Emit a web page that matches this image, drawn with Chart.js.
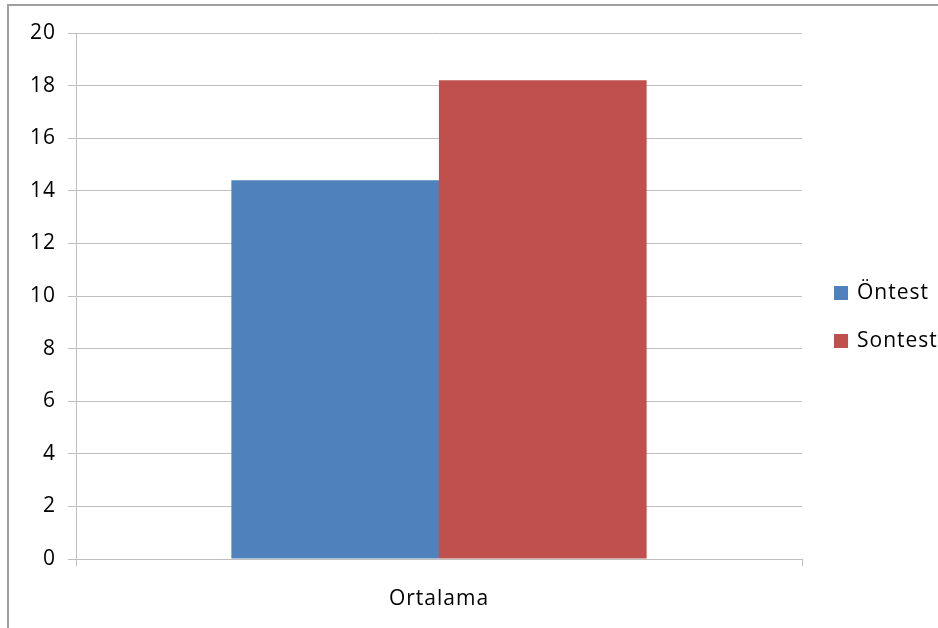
<!DOCTYPE html>
<html>
<head>
<meta charset="utf-8">
<script src="https://cdn.jsdelivr.net/npm/chart.js@4.4.1/dist/chart.umd.min.js"></script>
<style>
  html, body { margin: 0; padding: 0; background: #fff; }
  #wrap {
    position: absolute; left: 7px; top: 4px;
    width: 929px; height: 622px;
    border-left: 2px solid #a0a0a0; border-top: 2px solid #a0a0a0;
  }
</style>
</head>
<body>
<div id="wrap"><canvas id="chart" width="929" height="622"></canvas></div>
<script>
// data
var categories = ['Ortalama'];
var seriesNames = ['Öntest', 'Sontest'];
var ontestValues = [14.4];
var sontestValues = [18.2];
var seriesColors = ['#4F81BD', '#C0504D'];

var fontFamily = '"Open Sans", "Liberation Sans", sans-serif';
var gridColor = '#bfbfbf';

// legend drawn by hand so the plot area keeps its width
var sideLegend = {
    id: 'sideLegend',
    beforeDraw: function (chart) {
        chart.ctx.letterSpacing = '1px';
    },
    afterDraw: function (chart) {
        var ctx = chart.ctx;
        var sets = chart.data.datasets;
        var x = chart.chartArea.right + 32;
        var gap = 48;
        var y0 = chart.height / 2 - gap * (sets.length - 1) / 2;
        ctx.save();
        ctx.font = '21px ' + fontFamily;
        ctx.textBaseline = 'middle';
        ctx.fillStyle = '#000';
        sets.forEach(function (ds, i) {
            var y = y0 + i * gap;
            ctx.fillStyle = ds.backgroundColor;
            ctx.fillRect(x, y - 7, 14, 14);
            ctx.fillStyle = '#000';
            ctx.fillText(ds.label, x + 23, y);
        });
        ctx.restore();
    }
};

var chart = new Chart(document.getElementById('chart'), {
    type: 'bar',
    data: {
        labels: categories,
        datasets: [
            {label: seriesNames[0], data: ontestValues, backgroundColor: seriesColors[0]},
            {label: seriesNames[1], data: sontestValues, backgroundColor: seriesColors[1]}
        ]
    },
    options: {
        responsive: false,
        animation: false,
        layout: {padding: {top: 27, right: 136, left: 0, bottom: 0}},
        datasets: {bar: {barPercentage: 1, categoryPercentage: 0.572, borderWidth: 0}},
        plugins: {
            legend: {display: false},
            tooltip: {enabled: false}
        },
        scales: {
            x: {
                grid: {drawOnChartArea: false, offset: true, tickLength: 7, color: gridColor},
                border: {color: gridColor},
                ticks: {color: '#000', padding: 20, font: {family: fontFamily, size: 21}},
                afterFit: function (s) { s.height = 69; }
            },
            y: {
                min: 0,
                max: 20,
                ticks: {stepSize: 2, color: '#000', padding: 12, font: {family: fontFamily, size: 21}},
                grid: {color: gridColor, tickLength: 8},
                border: {color: gridColor},
                afterFit: function (s) { s.width = 67; }
            }
        }
    },
    plugins: [sideLegend]
});
</script>
</body>
</html>
